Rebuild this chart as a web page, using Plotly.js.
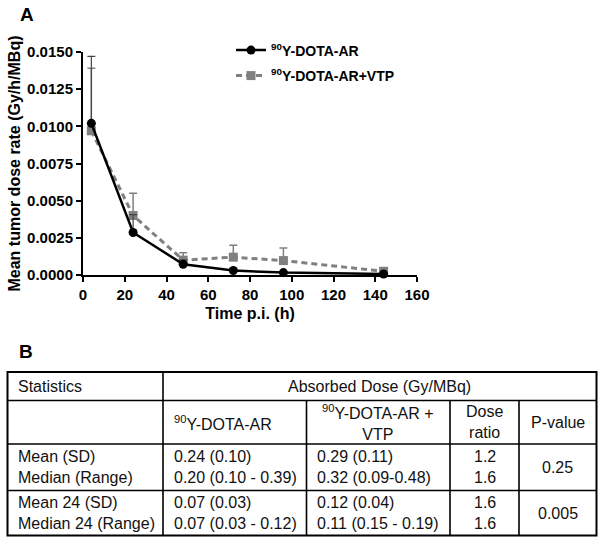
<!DOCTYPE html>
<html>
<head>
<meta charset="utf-8">
<script src="https://cdn.plot.ly/plotly-3.0.1.min.js"></script>
<style>
  html, body { margin: 0; padding: 0; background: #ffffff; }
  #chart { width: 604px; height: 544px; }
</style>
</head>
<body>
<div id="chart"></div>
<script>
// ---------- Panel A data ----------
const timeH = [4, 24, 48, 72, 96, 144];
const doseRateAR = [0.0102, 0.00286, 0.00072, 0.00030, 0.00016, 0.00007];
const errAR = [0.0045, 0.0012, 0.0003, 0.0001, 0.00005, 0.00003];
const doseRateARVTP = [0.0097, 0.0040, 0.0010, 0.0012, 0.00097, 0.00025];
const errARVTP = [0.0042, 0.0015, 0.0005, 0.0008, 0.00085, 0.0001];
const seriesNames = ["<sup>90</sup>Y-DOTA-AR", "<sup>90</sup>Y-DOTA-AR+VTP"];
const yTickVals = [0, 0.0025, 0.005, 0.0075, 0.01, 0.0125, 0.015];
const xTickVals = [0, 20, 40, 60, 80, 100, 120, 140, 160];

// ---------- Panel B table data ----------
const headerStat = "Statistics";
const headerDose = "Absorbed Dose (Gy/MBq)";
const colHeaders = ["<sup>90</sup>Y-DOTA-AR", "<sup>90</sup>Y-DOTA-AR +<br>VTP", "Dose<br>ratio", "P-value"];
const statLabels = ["Mean (SD)", "Median (Range)", "Mean 24 (SD)", "Median 24 (Range)"];
const doseAR = ["0.24 (0.10)", "0.20 (0.10 - 0.39)", "0.07 (0.03)", "0.07 (0.03 - 0.12)"];
const doseARVTP = ["0.29 (0.11)", "0.32 (0.09-0.48)", "0.12 (0.04)", "0.11 (0.15 - 0.19)"];
const doseRatio = ["1.2", "1.6", "1.6", "1.6"];
const pValues = ["0.25", "0.005"];

// ---------- Geometry helpers (pixel -> paper) ----------
const W = 604, H = 544;
const M = {l: 83, r: 187, t: 52, b: 269};
const PW = W - M.l - M.r;
const PH = H - M.t - M.b;
const px = x => (x - M.l) / PW;
const py = y => (H - M.b - y) / PH;

const FONT = '"Liberation Sans", Arial, Helvetica, sans-serif';
const GRAY = '#808080';

const traces = [
  {
    x: timeH, y: doseRateARVTP, name: seriesNames[1], legend: 'legend2',
    type: 'scatter', mode: 'lines+markers', cliponaxis: false,
    line: {color: GRAY, width: 3, dash: '6px,4px'},
    marker: {symbol: 'square', size: 9, color: GRAY},
    error_y: {type: 'data', symmetric: false, array: errARVTP, arrayminus: timeH.map(() => 0),
              color: GRAY, thickness: 1.5, width: 4}
  },
  {
    x: timeH, y: doseRateAR, name: seriesNames[0], legend: 'legend',
    type: 'scatter', mode: 'lines+markers', cliponaxis: false,
    line: {color: '#000000', width: 2.5},
    marker: {symbol: 'circle', size: 9, color: '#000000'},
    error_y: {type: 'data', symmetric: false, array: errAR, arrayminus: timeH.map(() => 0),
              color: '#444444', thickness: 1.2, width: 4}
  }
];

// ---------- Table shapes ----------
const tbl = {L: 7.5, R: 596.5, T: 372, B: 535.5, rows: [400.5, 444, 490.5], cols: [163, 306.5, 450, 519]};
const shapes = [];
function hline(y, x0, x1, w) {
  shapes.push({type: 'line', xref: 'paper', yref: 'paper', x0: px(x0), x1: px(x1), y0: py(y), y1: py(y),
               line: {color: '#000', width: w}});
}
function vline(x, y0, y1, w) {
  shapes.push({type: 'line', xref: 'paper', yref: 'paper', x0: px(x), x1: px(x), y0: py(y0), y1: py(y1),
               line: {color: '#000', width: w}});
}
shapes.push({type: 'rect', xref: 'paper', yref: 'paper', x0: px(tbl.L), x1: px(tbl.R), y0: py(tbl.T), y1: py(tbl.B),
             line: {color: '#000', width: 2}});
tbl.rows.forEach(y => hline(y, tbl.L, tbl.R, 1.6));
vline(tbl.cols[0], tbl.T, tbl.B, 1.6);
tbl.cols.slice(1).forEach(x => vline(x, tbl.rows[0], tbl.B, 1.6));

// ---------- Table text ----------
const annotations = [];
const TF = {family: FONT, size: 16, color: '#111'};
function txt(text, x, y, anchor) {
  annotations.push({text: text, xref: 'paper', yref: 'paper', x: px(x), y: py(y),
                    xanchor: anchor, yanchor: 'middle', showarrow: false, font: TF, align: 'center'});
}
const pad = 8.5;
const h1 = (tbl.T + tbl.rows[0]) / 2;
const h2 = (tbl.rows[0] + tbl.rows[1]) / 2;
txt(headerStat, tbl.L + pad, h1, 'left');
txt(headerDose, (tbl.cols[0] + tbl.R) / 2, h1, 'center');
txt(colHeaders[0], tbl.cols[0] + pad, h2 + 1, 'left');
txt(colHeaders[1], (tbl.cols[1] + tbl.cols[2]) / 2, h2, 'center');
txt(colHeaders[2], (tbl.cols[2] + tbl.cols[3]) / 2, h2, 'center');
txt(colHeaders[3], (tbl.cols[3] + tbl.R) / 2, h2, 'center');
const groupBounds = [[tbl.rows[1], tbl.rows[2]], [tbl.rows[2], tbl.B]];
statLabels.forEach((lab, i) => {
  const g = Math.floor(i / 2);
  const c = (groupBounds[g][0] + groupBounds[g][1]) / 2;
  const y = c + (i % 2 === 0 ? -10.5 : 10.5);
  txt(lab, tbl.L + pad, y, 'left');
  txt(doseAR[i], tbl.cols[0] + pad, y, 'left');
  txt(doseARVTP[i], tbl.cols[1] + pad, y, 'left');
  txt(doseRatio[i], (tbl.cols[2] + tbl.cols[3]) / 2, y, 'center');
});
pValues.forEach((p, g) => {
  const c = (groupBounds[g][0] + groupBounds[g][1]) / 2;
  txt(p, (tbl.cols[3] + tbl.R) / 2, c, 'center');
});

// Panel letters
annotations.push({text: '<b>A</b>', xref: 'paper', yref: 'paper', x: px(27), y: py(15), xanchor: 'center', yanchor: 'middle',
                  showarrow: false, font: {family: FONT, size: 19, color: '#000'}});
annotations.push({text: '<b>B</b>', xref: 'paper', yref: 'paper', x: px(26), y: py(351), xanchor: 'center', yanchor: 'middle',
                  showarrow: false, font: {family: FONT, size: 19, color: '#000'}});

const tickFont = {family: FONT, size: 15, color: '#000', weight: 'bold'};
const titleFont = {family: FONT, size: 16, color: '#000', weight: 'bold'};
const legendFont = {family: FONT, size: 14, color: '#000', weight: 'bold'};

const layout = {
  width: W, height: H,
  margin: M,
  paper_bgcolor: '#fff', plot_bgcolor: '#fff',
  font: {family: FONT},
  showlegend: true,
  xaxis: {
    range: [0, 160], tickvals: xTickVals, ticks: 'outside', ticklen: 5, tickwidth: 2, tickcolor: '#000',
    showline: true, linewidth: 2, linecolor: '#000', showgrid: false, zeroline: false,
    tickfont: tickFont, title: {text: 'Time p.i. (h)', font: titleFont, standoff: 6}
  },
  yaxis: {
    range: [0, 0.015], tickvals: yTickVals, tickformat: '.4f', ticks: 'outside', ticklen: 5, tickwidth: 2, tickcolor: '#000',
    showline: true, linewidth: 2, linecolor: '#000', showgrid: false, zeroline: false,
    tickfont: tickFont, title: {text: 'Mean tumor dose rate (Gy/h/MBq)', font: titleFont, standoff: 3}
  },
  legend: {x: px(231), y: py(50.5), xanchor: 'left', yanchor: 'middle', bgcolor: 'rgba(0,0,0,0)', font: legendFont},
  legend2: {x: px(231), y: py(76), xanchor: 'left', yanchor: 'middle', bgcolor: 'rgba(0,0,0,0)', font: legendFont},
  shapes: shapes,
  annotations: annotations
};

Plotly.newPlot('chart', traces, layout, {displayModeBar: false, staticPlot: true});
</script>
</body>
</html>
